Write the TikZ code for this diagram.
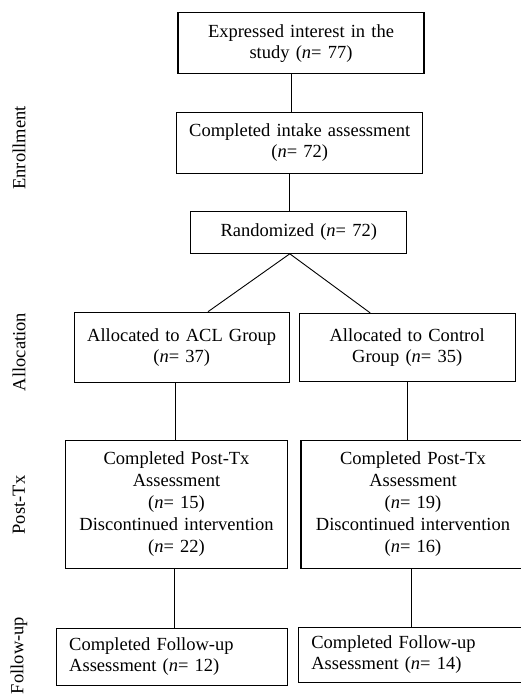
\documentclass[tikz,border=0pt]{standalone}
\usepackage{fontspec}
\setmainfont{Liberation Serif}
\usepackage{tikz}
\usetikzlibrary{positioning}
\newcommand{\nn}[1]{(\textit{n}= #1)}

\begin{document}
\begin{tikzpicture}[x=1pt,y=-1pt,font=\fontsize{18.5}{21}\selectfont,
		box/.style={draw,line width=1.2pt,align=center,inner sep=0pt},
		lbox/.style={box,align=left,inner xsep=13pt},
		phase/.style={rotate=90,inner sep=0pt}]
		\useasboundingbox (0,0) rectangle (520,694);
		%
		\node[box,text width=246,minimum height=61] (interest) at (301,43.3) {Expressed interest in the\\ study \nn{77}};
		\node[box,text width=246,minimum height=61] (intake) at (299.7,142.8) {Completed intake assessment\\ \nn{72}};
		\node[box,text width=216,minimum height=42] (random) at (298.8,232.2) {Randomized \nn{72}};
		\node[box,text width=215,minimum height=70] (acl) at (181.7,347.3) {Allocated to ACL Group\\ \nn{37}};
		\node[box,text width=216,minimum height=68] (control) at (407.2,347.5) {Allocated to Control\\ Group \nn{35}};
		\node[box,text width=222,minimum height=128,font=\fontsize{18.5}{22}\selectfont] (postacl) at (176.5,504.2) {Completed Post-Tx\\ Assessment\\ \nn{15}\\ Discontinued intervention\\ \nn{22}};
		\node[box,text width=224,minimum height=128,font=\fontsize{18.5}{22}\selectfont] (postcon) at (413,504.2) {Completed Post-Tx\\ Assessment\\ \nn{19}\\ Discontinued intervention\\ \nn{16}};
		\node[lbox,text width=205,minimum height=57] (followacl) at (171.7,657) {Completed Follow-up\\ Assessment \nn{12}};
		\node[lbox,text width=200,minimum height=55] (followcon) at (411.3,654.8) {Completed Follow-up\\ Assessment \nn{14}};
		%
		\node[phase] (enroll) at (19,148) {Enrollment};
		\node[phase] (alloc) at (19,352) {Allocation};
		\node[phase] (posttx) at (19,505) {Post-Tx};
		\node[phase] (follow) at (19,655.5) {Follow-up};
		%
		\path[line width=0.9pt]
		([xshift=-10]interest.south) edge ([xshift=-10]interest.south |- intake.north)
		([xshift=-10.4]intake.south) edge ([xshift=-10.4]intake.south |- random.north)
		([xshift=-9]random.south) edge ([xshift=26.3]acl.north)
			edge ([xshift=-37]control.north)
		([xshift=-6]acl.south) edge ([xshift=-6]acl.south |- postacl.north)
		(control.south) edge (control.south |- postcon.north)
		([xshift=-2.2]postacl.south) edge ([xshift=-2.2]postacl.south |- followacl.north)
		([xshift=-1.3]postcon.south) edge ([xshift=-1.3]postcon.south |- followcon.north);
	\end{tikzpicture}
\end{document}
